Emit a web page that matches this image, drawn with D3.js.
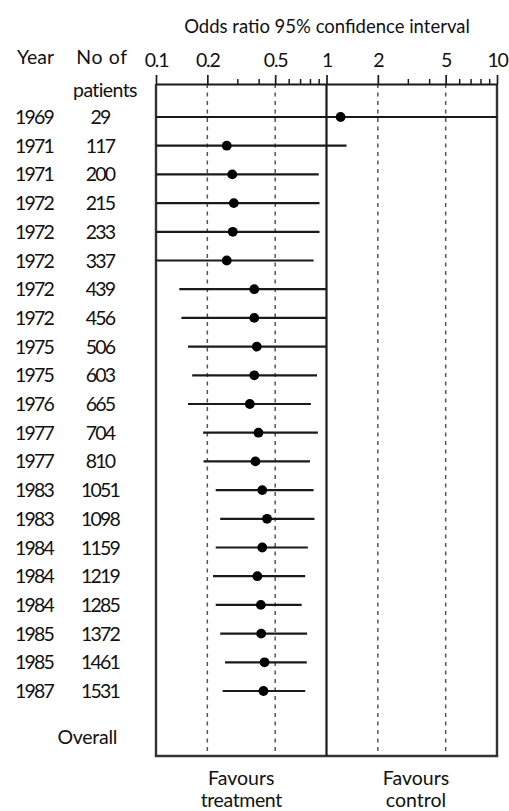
<!DOCTYPE html>
<html>
<head>
<meta charset="utf-8">
<script src="https://cdn.jsdelivr.net/npm/d3@7/dist/d3.min.js"></script>
<style>
  html, body { margin: 0; padding: 0; background: #fff; }
  svg { display: block; }
  text { font-family: Lato, "Open Sans", "DejaVu Sans", sans-serif; fill: #111; }
</style>
</head>
<body>
<script>
// ---- data ----
const years    = [1969,1971,1971,1972,1972,1972,1972,1972,1975,1975,1976,1977,1977,1983,1983,1984,1984,1984,1985,1985,1987];
const patients = [29,117,200,215,233,337,439,456,506,603,665,704,810,1051,1098,1159,1219,1285,1372,1461,1531];
const oddsRatio = [1.21,0.26,0.28,0.286,0.282,0.26,0.377,0.377,0.39,0.377,0.355,0.399,0.383,0.42,0.448,0.42,0.393,0.412,0.414,0.433,0.427];
const ciLower  = [0.1,0.1,0.1,0.1,0.1,0.1,0.137,0.141,0.154,0.163,0.154,0.189,0.19,0.224,0.238,0.224,0.216,0.224,0.238,0.254,0.246];
const ciUpper  = [10,1.31,0.90,0.91,0.91,0.84,1.0,1.0,1.0,0.88,0.81,0.89,0.80,0.84,0.85,0.777,0.75,0.715,0.77,0.766,0.75];
const majorTicks = [0.1,0.2,0.5,1,2,5,10];
const majorTickLabels = ["0.1","0.2","0.5","1","2","5","10"];
const minorTicks = [0.3,0.4,0.6,0.7,0.8,0.9,3,4,6,7,8,9];
const dashedAt = [0.2,0.5,2,5];

const W = 509, H = 811;
const yTop = 84, yBottom = 756;
const svg = d3.select("body").append("svg").attr("width", W).attr("height", H);
svg.append("rect").attr("width", W).attr("height", H).attr("fill", "#fff");

const x = d3.scaleLog().domain([0.1, 10]).range([156, 497]).clamp(true);
const rows = d3.range(years.length);
const y = d3.scaleLinear().domain([0, years.length - 1]).range([117, 691]);

const ink = "#1a1a1a";
const FS = 19.5;

// dashed reference lines
svg.selectAll("line.dash").data(dashedAt).join("line")
  .attr("x1", d => x(d)).attr("x2", d => x(d))
  .attr("y1", yTop).attr("y2", yBottom)
  .attr("stroke", "#555").attr("stroke-width", 1.5).attr("stroke-dasharray", "4,4.5");

// box: left, right, bottom, and line of no effect
svg.append("line").attr("x1", x(0.1)).attr("x2", x(0.1)).attr("y1", yTop).attr("y2", yBottom)
  .attr("stroke", "#333").attr("stroke-width", 2.4);
svg.append("line").attr("x1", x(10)).attr("x2", x(10)).attr("y1", yTop).attr("y2", yBottom)
  .attr("stroke", "#333").attr("stroke-width", 2.4);
svg.append("line").attr("x1", x(0.1) - 1.2).attr("x2", x(10) + 1.2).attr("y1", yBottom).attr("y2", yBottom)
  .attr("stroke", "#333").attr("stroke-width", 2.4);
svg.append("line").attr("x1", x(1)).attr("x2", x(1)).attr("y1", yTop).attr("y2", yBottom)
  .attr("stroke", ink).attr("stroke-width", 2.2);

// top axis
const axisMajor = d3.axisTop(x).tickValues(majorTicks).tickSize(9).tickSizeOuter(0)
  .tickFormat((d, i) => majorTickLabels[i]).tickPadding(8);
const gA = svg.append("g").attr("transform", `translate(0,${yTop})`).call(axisMajor);
gA.select(".domain").attr("stroke", ink).attr("stroke-width", 2.2);
gA.selectAll(".tick line").attr("stroke", ink).attr("stroke-width", 1.7);
gA.selectAll(".tick text").attr("font-size", FS).attr("font-family", "Lato, sans-serif")
  .attr("fill", "#111").style("letter-spacing", "-1.2px");

const axisMinor = d3.axisTop(x).tickValues(minorTicks).tickSize(5).tickSizeOuter(0).tickFormat("");
const gM = svg.append("g").attr("transform", `translate(0,${yTop})`).call(axisMinor);
gM.select(".domain").remove();
gM.selectAll(".tick line").attr("stroke", ink).attr("stroke-width", 1.5);

// title
svg.append("text").attr("x", 327).attr("y", 33).attr("text-anchor", "middle")
  .attr("font-size", 18.5).text("Odds ratio 95% confidence interval");

// column headers
svg.append("text").attr("x", 17).attr("y", 64).attr("font-size", FS).text("Year");
svg.append("text").attr("x", 102).attr("y", 64).attr("text-anchor", "middle").attr("font-size", FS)
  .style("letter-spacing", "0.6px").text("No of");
svg.append("text").attr("x", 105).attr("y", 97).attr("text-anchor", "middle").attr("font-size", FS)
  .style("letter-spacing", "-0.6px").text("patients");

// confidence intervals
svg.selectAll("line.ci").data(rows).join("line")
  .attr("x1", i => x(ciLower[i])).attr("x2", i => x(ciUpper[i]))
  .attr("y1", i => y(i)).attr("y2", i => y(i))
  .attr("stroke", ink).attr("stroke-width", 2.2);

// point estimates
svg.selectAll("circle.pt").data(rows).join("circle")
  .attr("cx", i => x(oddsRatio[i])).attr("cy", i => y(i)).attr("r", 4.9)
  .attr("fill", "#000");

// row labels
svg.selectAll("text.yr").data(rows).join("text")
  .attr("x", 15).attr("y", i => y(i)).attr("dy", "0.36em")
  .attr("font-size", FS).style("letter-spacing", "-1.8px").text(i => years[i]);
svg.selectAll("text.np").data(rows).join("text")
  .attr("x", 100).attr("y", i => y(i)).attr("dy", "0.36em").attr("text-anchor", "middle")
  .attr("font-size", FS).style("letter-spacing", "-1.8px").text(i => patients[i]);

svg.append("text").attr("x", 117).attr("y", y(years.length - 1) + 46).attr("dy", "0.36em")
  .attr("text-anchor", "end").attr("font-size", FS).style("letter-spacing", "-0.3px").text("Overall");

// favours labels
const favT = Math.sqrt(0.1 * 1), favC = 3.35;
svg.append("text").attr("x", x(favT)).attr("y", 785).attr("text-anchor", "middle").attr("font-size", FS).text("Favours");
svg.append("text").attr("x", x(favT)).attr("y", 807).attr("text-anchor", "middle").attr("font-size", FS).style("letter-spacing", "-0.4px").text("treatment");
svg.append("text").attr("x", x(favC)).attr("y", 785).attr("text-anchor", "middle").attr("font-size", FS).text("Favours");
svg.append("text").attr("x", x(favC)).attr("y", 807).attr("text-anchor", "middle").attr("font-size", FS).text("control");
</script>
</body>
</html>
